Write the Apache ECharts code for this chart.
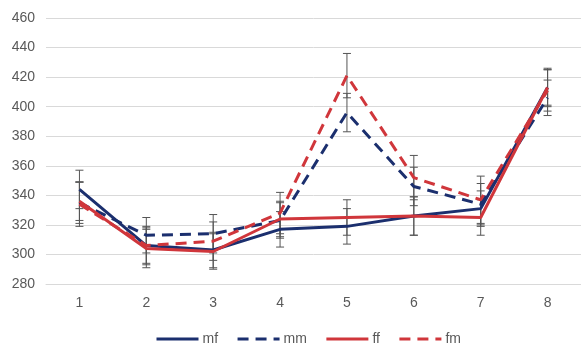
<!DOCTYPE html>
<html><head><meta charset="utf-8">
<script src="https://cdn.jsdelivr.net/npm/echarts@6/dist/echarts.min.js"></script>
<style>html,body{margin:0;padding:0;background:#fff}#c{width:581px;height:347px}</style>
</head><body><div id="c"></div>
<script>
const categories = ['1','2','3','4','5','6','7','8'];
const mf = [344, 306, 303, 317, 319, 326, 331, 413];
const mm = [335, 313, 314, 323, 396, 346, 334, 406];
const ff = [336, 304, 302, 324, 325, 326, 325, 413];
const fm = [334, 306, 309, 328, 421, 352, 337, 411];
const mfErr = [13, 12, 12, 12, 12, 13, 12, 13];
const mmErr = [14, 12, 13, 12, 13, 13, 14, 12];
const ffErr = [13, 13, 12, 12, 12, 13, 12, 12];
const fmErr = [15, 13, 13, 14, 15, 15, 16, 14];
const yMin = 280, yMax = 460, yStep = 20;

const NAVY = '#1b2f6e', RED = '#d0363b', TXT = '#595959';
const font = 'Liberation Sans';

function errData(vals, errs){ return vals.map((v,i)=>[i, v-errs[i], v+errs[i]]); }
function errSeries(vals, errs){
  return {
    type:'custom', silent:true, z:1,
    data: errData(vals, errs),
    encode:{x:0, y:[1,2]},
    renderItem:(params, api)=>{
      const x = api.value(0);
      const lo = api.coord([x, api.value(1)]);
      const hi = api.coord([x, api.value(2)]);
      const w = 4, st = {stroke:'#555', lineWidth:1};
      return {type:'group', children:[
        {type:'line', shape:{x1:lo[0], y1:lo[1], x2:hi[0], y2:hi[1]}, style:st},
        {type:'line', shape:{x1:lo[0]-w, y1:lo[1], x2:lo[0]+w, y2:lo[1]}, style:st},
        {type:'line', shape:{x1:hi[0]-w, y1:hi[1], x2:hi[0]+w, y2:hi[1]}, style:st}
      ]};
    }
  };
}
function lineSeries(name, vals, color, dashed){
  return {
    name, type:'line', data:vals, symbol:'none', z:3,
    lineStyle:{color, width:3, type: dashed ? [11,7] : 'solid'},
    itemStyle:{color}
  };
}

const chart = echarts.init(document.getElementById('c'), null, {renderer:'canvas'});
chart.setOption({
  animation:false,
  textStyle:{fontFamily:font},
  grid:{left:46, top:18, width:539, height:266},
  legend:{
    data:['mf','mm','ff','fm'],
    left:150, top:327, itemWidth:42, itemHeight:12, itemGap:18,
    itemStyle:{opacity:0},
    lineStyle:{width:3},
    textStyle:{color:TXT, fontSize:14, fontFamily:font, padding:[0,0,0,-1]}
  },
  xAxis:{
    type:'category', data:categories, boundaryGap:true,
    axisLine:{show:true, lineStyle:{color:'#d9d9d9'}},
    axisTick:{show:false},
    axisLabel:{color:TXT, fontSize:14, margin:12, fontFamily:font}
  },
  yAxis:{
    type:'value', min:yMin, max:yMax, interval:yStep,
    axisLine:{show:false}, axisTick:{show:false},
    splitLine:{lineStyle:{color:'#d9d9d9', width:1}},
    axisLabel:{color:TXT, fontSize:14, margin:11, fontFamily:font}
  },
  series:[
    errSeries(mf, mfErr), errSeries(mm, mmErr), errSeries(ff, ffErr), errSeries(fm, fmErr),
    lineSeries('mf', mf, NAVY, false),
    lineSeries('mm', mm, NAVY, true),
    lineSeries('ff', ff, RED, false),
    lineSeries('fm', fm, RED, true)
  ]
});
</script></body></html>
